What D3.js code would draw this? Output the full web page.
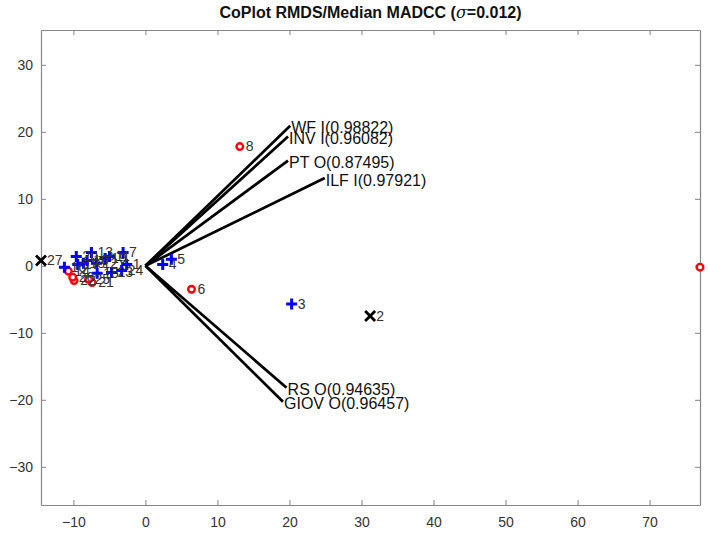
<!DOCTYPE html>
<html>
<head>
<meta charset="utf-8">
<script src="https://cdn.jsdelivr.net/npm/d3@7"></script>
<style>
  html, body { margin: 0; padding: 0; background: #fff; }
  svg { display: block; font-family: "Liberation Sans", Arial, Helvetica, sans-serif; }
</style>
</head>
<body>
<div id="chart"></div>
<script>
// ---- data ----
const pointLabels = ["1","2","3","4","5","6","7","8","9","10","11","12","13","14","15","16","17","18","19","20","21","22","23","24","25","26","27"];
const pointX = [-2.6, 31.2, 20.3, 2.4, 3.6, 6.4, -3.1, 13.1, 77.0, -8.1, -5.0, -6.8, -7.5, -10.7, -6.7, -11.25, -9.4, -8.6, -5.6, -9.6, -7.4, -9.9, -4.7, -3.3, -7.9, -10.1, -14.5];
const pointY = [0.2, -7.5, -5.7, 0.2, 1.0, -3.5, 2.0, 17.8, -0.2, 0.8, 1.4, 0.4, 2.0, -0.8, -1.1, -0.2, 0.2, 0.4, 1.1, 1.4, -2.5, -2.2, -1.0, -0.7, -2.0, -1.7, 0.8];
const pointType = ["plus","x","plus","plus","plus","circle","plus","circle","circle","plus","plus","plus","plus","circle","plus","plus","plus","plus","plus","plus","circle","circle","plus","plus","circle","circle","x"];

const arrowNames = ["WF I(0.98822)", "INV I(0.96082)", "PT O(0.87495)", "ILF I(0.97921)", "RS O(0.94635)", "GIOV O(0.96457)"];
const arrowX = [20.1, 19.8, 19.8, 24.9, 19.6, 19.1];
const arrowY = [20.9, 19.3, 15.7, 13.1, -18.2, -20.3];

const xTicks = [-10, 0, 10, 20, 30, 40, 50, 60, 70];
const yTicks = [-30, -20, -10, 0, 10, 20, 30];
const xDomain = [-14.5, 77];
const yDomain = [-35.7, 35.2];

// ---- layout ----
const W = 708, H = 536;
const L = 41, R = 700, T = 30, B = 505;
const axisColor = "#858585", textColor = "#333333";

const svg = d3.select("#chart").append("svg").attr("width", W).attr("height", H);
svg.append("rect").attr("width", W).attr("height", H).attr("fill", "#fff");

const x = d3.scaleLinear().domain(xDomain).range([L, R]);
const y = d3.scaleLinear().domain(yDomain).range([B, T]);

// axes (box with inward ticks)
const tickLen = 5;
const axB = svg.append("g").attr("transform", `translate(0,${B})`)
  .call(d3.axisBottom(x).tickValues(xTicks).tickSizeInner(-tickLen).tickSizeOuter(0).tickPadding(12).tickFormat(d3.format("d")));
const axT = svg.append("g").attr("transform", `translate(0,${T})`)
  .call(d3.axisTop(x).tickValues(xTicks).tickSizeInner(-tickLen).tickSizeOuter(0).tickFormat(""));
const axL = svg.append("g").attr("transform", `translate(${L},0)`)
  .call(d3.axisLeft(y).tickValues(yTicks).tickSizeInner(-tickLen).tickSizeOuter(0).tickPadding(8).tickFormat(d3.format("d")));
const axR = svg.append("g").attr("transform", `translate(${R},0)`)
  .call(d3.axisRight(y).tickValues(yTicks).tickSizeInner(-tickLen).tickSizeOuter(0).tickFormat(""));
[axB, axT, axL, axR].forEach(g => {
  g.select(".domain").attr("stroke", axisColor).attr("stroke-width", 1.2);
  g.selectAll(".tick line").attr("stroke", axisColor).attr("stroke-width", 1);
  g.selectAll(".tick text").attr("fill", textColor).attr("font-size", 14)
    .attr("font-family", "'Liberation Sans', Arial, sans-serif");
});

// title
const title = svg.append("text").attr("x", (L + R) / 2).attr("y", 18)
  .attr("text-anchor", "middle").attr("font-size", 16).attr("font-weight", "bold").attr("fill", "#111");
title.append("tspan").text("CoPlot RMDS/Median MADCC (");
title.append("tspan").attr("font-style", "italic").attr("font-family", "'DejaVu Serif', serif").attr("font-weight", "normal").text("σ");
title.append("tspan").text("=0.012)");

// plot layer
const plot = svg.append("g");

// arrows from origin
arrowNames.forEach((name, i) => {
  plot.append("line")
    .attr("x1", x(0)).attr("y1", y(0))
    .attr("x2", x(arrowX[i])).attr("y2", y(arrowY[i]))
    .attr("stroke", "#000").attr("stroke-width", 2.7).attr("stroke-linecap", "butt");
});

// points
pointLabels.forEach((lab, i) => {
  const cx = x(pointX[i]), cy = y(pointY[i]);
  const t = pointType[i];
  if (t === "plus") {
    const s = 5.5;
    plot.append("path").attr("d", `M${cx - s},${cy}H${cx + s}M${cx},${cy - s}V${cy + s}`)
      .attr("stroke", "#0000ff").attr("stroke-width", 3).attr("fill", "none");
  } else if (t === "circle") {
    plot.append("circle").attr("cx", cx).attr("cy", cy).attr("r", 3.3)
      .attr("stroke", "#ff0000").attr("stroke-width", 2.4).attr("fill", "#fff");
  } else {
    const s = 5;
    plot.append("path").attr("d", `M${cx - s},${cy - s}L${cx + s},${cy + s}M${cx - s},${cy + s}L${cx + s},${cy - s}`)
      .attr("stroke", "#000").attr("stroke-width", 2.8).attr("fill", "none");
  }
});
// point labels (a label that would start beyond the canvas is not drawn, as in the reference)
pointLabels.forEach((lab, i) => {
  const lx = x(pointX[i]) + 6;
  if (lx > W - 10) return;
  plot.append("text").attr("x", lx).attr("y", y(pointY[i]))
    .attr("dy", "0.35em").attr("font-size", 14).attr("fill", textColor).text(lab);
});

// arrow labels
arrowNames.forEach((name, i) => {
  plot.append("text").attr("x", x(arrowX[i]) + 1).attr("y", y(arrowY[i]) + 2)
    .attr("dy", "0.35em").attr("font-size", 16).attr("fill", "#111").text(name);
});
</script>
</body>
</html>
